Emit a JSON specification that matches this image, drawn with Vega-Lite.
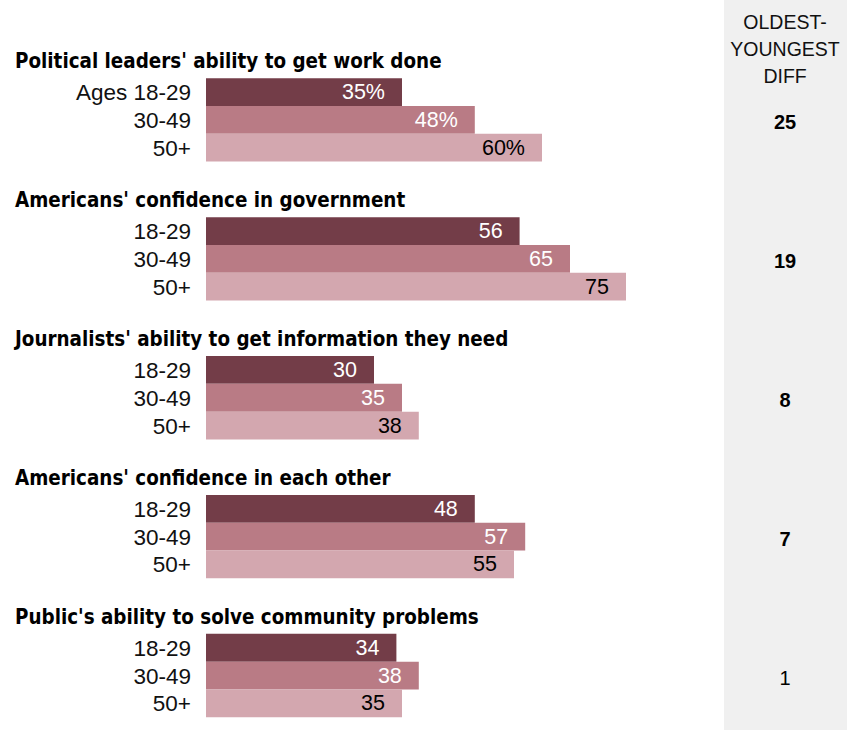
{
  "$schema": "https://vega.github.io/schema/vega-lite/v6.json",
  "width": 847,
  "height": 730,
  "autosize": {"type": "none"},
  "padding": 0,
  "background": "white",
  "config": {"view": {"stroke": null}, "font": "Liberation Sans"},
  "datasets": {
    "bars": [
      {"row": "g1a", "age": "18-29", "label": "Ages 18-29", "value": 35, "text": "35%"},
      {"row": "g1b", "age": "30-49", "label": "30-49", "value": 48, "text": "48%"},
      {"row": "g1c", "age": "50+", "label": "50+", "value": 60, "text": "60%"},
      {"row": "g2a", "age": "18-29", "label": "18-29", "value": 56, "text": "56"},
      {"row": "g2b", "age": "30-49", "label": "30-49", "value": 65, "text": "65"},
      {"row": "g2c", "age": "50+", "label": "50+", "value": 75, "text": "75"},
      {"row": "g3a", "age": "18-29", "label": "18-29", "value": 30, "text": "30"},
      {"row": "g3b", "age": "30-49", "label": "30-49", "value": 35, "text": "35"},
      {"row": "g3c", "age": "50+", "label": "50+", "value": 38, "text": "38"},
      {"row": "g4a", "age": "18-29", "label": "18-29", "value": 48, "text": "48"},
      {"row": "g4b", "age": "30-49", "label": "30-49", "value": 57, "text": "57"},
      {"row": "g4c", "age": "50+", "label": "50+", "value": 55, "text": "55"},
      {"row": "g5a", "age": "18-29", "label": "18-29", "value": 34, "text": "34"},
      {"row": "g5b", "age": "30-49", "label": "30-49", "value": 38, "text": "38"},
      {"row": "g5c", "age": "50+", "label": "50+", "value": 35, "text": "35"}
    ],
    "groups": [
      {"row": "g1t", "drow": "g1b", "title": "Political leaders' ability to get work done", "diff": 25, "sig": true},
      {"row": "g2t", "drow": "g2b", "title": "Americans' confidence in government", "diff": 19, "sig": true},
      {"row": "g3t", "drow": "g3b", "title": "Journalists' ability to get information they need", "diff": 8, "sig": true},
      {"row": "g4t", "drow": "g4b", "title": "Americans' confidence in each other", "diff": 7, "sig": true},
      {"row": "g5t", "drow": "g5b", "title": "Public's ability to solve community problems", "diff": 1, "sig": false}
    ]
  },
  "layer": [
    {
      "data": {"values": [{"band": "diff"}]},
      "mark": {"type": "rect", "color": "#f0f0f0"},
      "encoding": {
        "x": {"datum": 92.5, "type": "quantitative", "scale": {"domain": [0, 75], "range": [206, 626], "nice": false}, "axis": null},
        "x2": {"datum": 115}
      }
    },
    {
      "data": {"name": "bars"},
      "mark": {"type": "bar"},
      "encoding": {
        "y": {"field": "row", "type": "nominal", "axis": null, "scale": {"domain": ["g1t","g1a","g1b","g1c","g1s","g2t","g2a","g2b","g2c","g2s","g3t","g3a","g3b","g3c","g3s","g4t","g4a","g4b","g4c","g4s","g5t","g5a","g5b","g5c"], "range": [50.5, 717.2], "paddingInner": 0, "paddingOuter": 0}},
        "x": {"field": "value", "type": "quantitative", "scale": {"domain": [0, 75], "range": [206, 626], "nice": false}, "axis": null},
        "color": {"field": "age", "type": "nominal", "scale": {"domain": ["18-29", "30-49", "50+"], "range": ["#733d48", "#b97b85", "#d3a7af"]}, "legend": null}
      }
    },
    {
      "data": {"name": "bars"},
      "mark": {"type": "text", "align": "right", "baseline": "middle", "dx": -17, "dy": 1, "fontSize": 21.5},
      "encoding": {
        "y": {"field": "row", "type": "nominal"},
        "x": {"field": "value", "type": "quantitative"},
        "text": {"field": "text"},
        "color": {"condition": {"test": "datum.age === '50+'", "value": "#000000"}, "value": "#ffffff"}
      }
    },
    {
      "data": {"name": "bars"},
      "mark": {"type": "text", "align": "right", "baseline": "middle", "dx": -15, "dy": 1, "fontSize": 22.5, "color": "#111111"},
      "encoding": {
        "y": {"field": "row", "type": "nominal"},
        "x": {"datum": 0, "type": "quantitative"},
        "text": {"field": "label"}
      }
    },
    {
      "data": {"name": "groups"},
      "mark": {"type": "text", "align": "left", "baseline": "middle", "dx": -191, "dy": -2, "fontSize": 20.4, "fontWeight": "bold", "font": "DejaVu Sans Condensed", "color": "#000000"},
      "encoding": {
        "y": {"field": "row", "type": "nominal"},
        "x": {"datum": 0, "type": "quantitative"},
        "text": {"field": "title"}
      }
    },
    {
      "data": {"name": "groups"},
      "transform": [{"filter": "datum.sig"}],
      "mark": {"type": "text", "align": "center", "baseline": "middle", "dy": 3, "fontSize": 20, "fontWeight": "bold", "color": "#000000"},
      "encoding": {
        "y": {"field": "drow", "type": "nominal"},
        "x": {"datum": 103.4, "type": "quantitative"},
        "text": {"field": "diff"}
      }
    },
    {
      "data": {"name": "groups"},
      "transform": [{"filter": "!datum.sig"}],
      "mark": {"type": "text", "align": "center", "baseline": "middle", "dy": 3, "fontSize": 20, "color": "#000000"},
      "encoding": {
        "y": {"field": "drow", "type": "nominal"},
        "x": {"datum": 103.4, "type": "quantitative"},
        "text": {"field": "diff"}
      }
    },
    {
      "data": {"values": [{"header": "OLDEST-\nYOUNGEST\nDIFF"}]},
      "mark": {"type": "text", "align": "center", "baseline": "middle", "lineBreak": "\n", "lineHeight": 27, "dy": -41, "fontSize": 19.5, "color": "#111111"},
      "encoding": {
        "y": {"datum": "g1t", "type": "nominal"},
        "x": {"datum": 103.4, "type": "quantitative"},
        "text": {"field": "header"}
      }
    }
  ]
}
